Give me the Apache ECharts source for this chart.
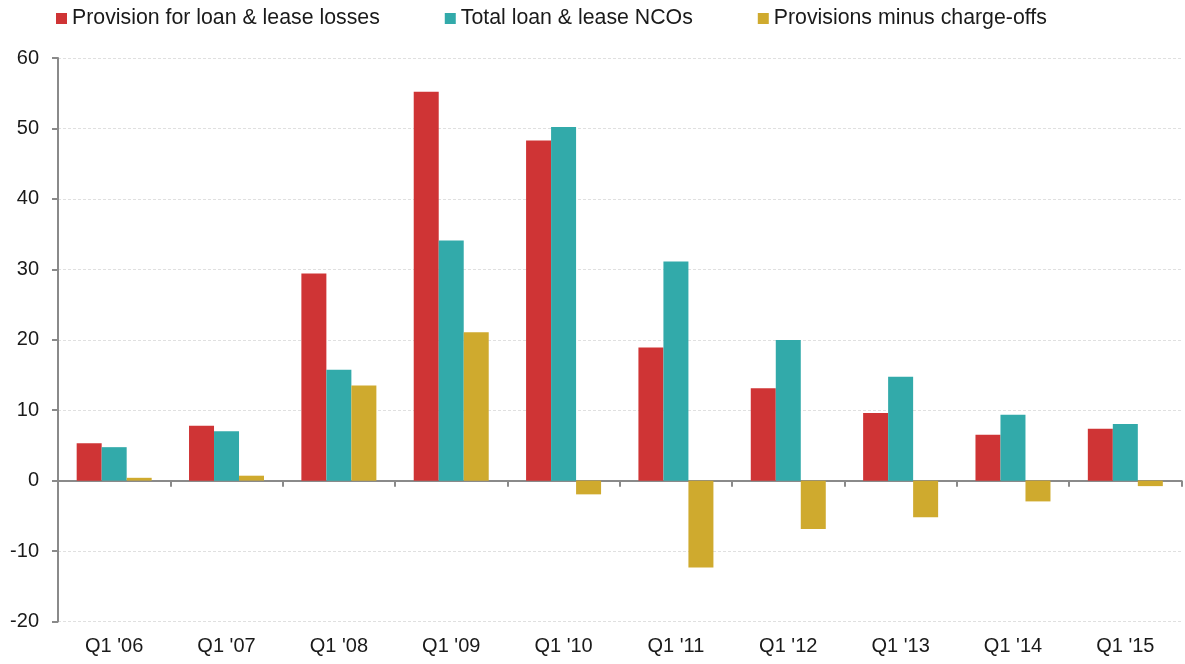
<!DOCTYPE html>
<html>
<head>
<meta charset="utf-8">
<script src="https://cdn.jsdelivr.net/npm/echarts@6/dist/echarts.min.js"></script>
<style>
  html, body { margin: 0; padding: 0; background: #fff; }
  #chart { width: 1185px; height: 664px; }
</style>
</head>
<body>
<div id="chart"></div>
<script>
// quarters
const quarters = ["Q1 '06", "Q1 '07", "Q1 '08", "Q1 '09", "Q1 '10", "Q1 '11", "Q1 '12", "Q1 '13", "Q1 '14", "Q1 '15"];

// series values (billions)
const provisions = [5.3, 7.8, 29.4, 55.2, 48.3, 18.9, 13.1, 9.6, 6.5, 7.35];
const ncos = [4.75, 7.0, 15.75, 34.1, 50.2, 31.1, 19.95, 14.75, 9.35, 8.05];
const provMinusNco = [0.4, 0.7, 13.5, 21.05, -1.95, -12.35, -6.87, -5.2, -2.95, -0.78];

// y ticks
const yMin = -20;
const yMax = 60;
const yStep = 10;

const FONT = "'Liberation Sans', Arial, sans-serif";
const AXIS_GREY = "#8a8a8a";

const chart = echarts.init(document.getElementById("chart"));

chart.setOption({
  animation: false,
  backgroundColor: "#fff",
  textStyle: { fontFamily: FONT },
  legend: {
    left: 56,
    top: 8,
    padding: 0,
    icon: "rect",
    itemWidth: 11,
    itemHeight: 11,
    itemGap: 65,
    textStyle: { fontSize: 21.3, color: "#1a1a1a", fontFamily: FONT },
    data: ["Provision for loan & lease losses", "Total loan & lease NCOs", "Provisions minus charge-offs"],
  },
  grid: { left: 58, right: 3.5, top: 58, bottom: 42.5, containLabel: false },
  xAxis: [
    {
      // labels along the bottom
      type: "category",
      data: quarters,
      position: "bottom",
      axisLine: { show: false, onZero: false },
      axisTick: { show: false },
      axisLabel: { fontSize: 20, color: "#1a1a1a", margin: 15, fontFamily: FONT },
      splitLine: { show: false },
    },
    {
      // zero line with boundary ticks
      type: "category",
      data: quarters,
      position: "bottom",
      axisLine: { show: true, onZero: true, lineStyle: { color: AXIS_GREY, width: 2 } },
      axisTick: { show: true, length: 6, lineStyle: { color: AXIS_GREY, width: 2 } },
      axisLabel: { show: false },
      splitLine: { show: false },
    },
  ],
  yAxis: {
    type: "value",
    min: yMin,
    max: yMax,
    interval: yStep,
    axisLine: { show: true, lineStyle: { color: AXIS_GREY, width: 2 } },
    axisTick: { show: true, length: 6, lineStyle: { color: AXIS_GREY, width: 2 } },
    axisLabel: { fontSize: 20, color: "#1a1a1a", margin: 19, fontFamily: FONT },
    splitLine: { show: true, lineStyle: { color: "#e0e0e0", width: 1, type: [3, 2] } },
  },
  series: [
    {
      name: "Provision for loan & lease losses",
      type: "bar",
      data: provisions,
      barWidth: 25,
      barGap: "0%",
      itemStyle: { color: "#cf3435" },
    },
    {
      name: "Total loan & lease NCOs",
      type: "bar",
      data: ncos,
      barWidth: 25,
      barGap: "0%",
      itemStyle: { color: "#32aaaa" },
    },
    {
      name: "Provisions minus charge-offs",
      type: "bar",
      data: provMinusNco,
      barWidth: 25,
      barGap: "0%",
      itemStyle: { color: "#cfaa2e" },
    },
  ],
});
</script>
</body>
</html>
